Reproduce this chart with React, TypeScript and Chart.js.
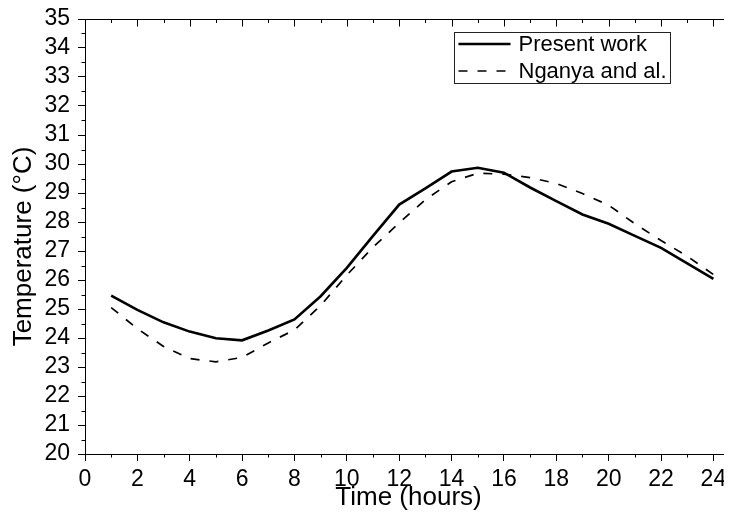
import React, { useEffect, useRef } from "react";
import { Chart, registerables } from "chart.js";

Chart.register(...registerables);

const hours = [1, 2, 3, 4, 5, 6, 7, 8, 9, 10, 11, 12, 13, 14, 15, 16, 17, 18, 19, 20, 21, 22, 23, 24];
const presentWork = [25.46, 24.97, 24.54, 24.22, 23.99, 23.92, 24.26, 24.64, 25.44, 26.42, 27.52, 28.6, 29.16, 29.74, 29.87, 29.7, 29.19, 28.72, 28.26, 27.94, 27.52, 27.11, 26.57, 26.04];
const nganya = [25.05, 24.32, 23.71, 23.29, 23.18, 23.33, 23.83, 24.28, 25.12, 26.17, 27.13, 27.97, 28.77, 29.39, 29.68, 29.65, 29.53, 29.33, 28.98, 28.58, 27.94, 27.36, 26.82, 26.19];
const xTickValues = [0, 2, 4, 6, 8, 10, 12, 14, 16, 18, 20, 22, 24];
const yTickValues = [20, 21, 22, 23, 24, 25, 26, 27, 28, 29, 30, 31, 32, 33, 34, 35];
const seriesNames = ["Present work", "Nganya and al."];
const xTitle = "Time (hours)";
const yTitle = "Temperature (°C)";

const FONT = "'Liberation Sans', Arial, sans-serif";
const X_MIN = 0;
const X_VIEW_MAX = 24.71;
const X_FRAME_MAX = 24.9;
const Y_MIN = 20;
const Y_MAX = 35;

const framePlugin = {
  id: "frame",
  afterDraw(chart: any) {
    const { ctx, chartArea, scales } = chart;
    const { left, top, bottom } = chartArea;
    const x = scales.x;
    const y = scales.y;
    const xr = x.getPixelForValue(X_FRAME_MAX);
    const line = (x1: number, y1: number, x2: number, y2: number) => {
      ctx.beginPath();
      ctx.moveTo(x1, y1);
      ctx.lineTo(x2, y2);
      ctx.stroke();
    };
    ctx.save();
    ctx.strokeStyle = "#000";
    ctx.lineWidth = 1;
    const t = Math.round(top) + 0.5;
    line(left, t, xr + 10, t);
    for (let h = X_MIN; h <= X_FRAME_MAX; h += 1) {
      const px = Math.round(x.getPixelForValue(h)) + 0.5;
      const major = h % 2 === 0;
      const len = major ? 7 : 3.5;
      if (!major) line(px, bottom, px, bottom + len);
      line(px, t, px, t + len);
    }
    for (let v = Y_MIN; v <= Y_MAX + 0.001; v += 0.5) {
      const py = Math.round(y.getPixelForValue(v)) + 0.5;
      const major = Math.abs(v - Math.round(v)) < 0.01;
      const len = major ? 7 : 3.5;
      if (!major) line(left - len, py, left, py);
      line(xr, py, xr - len, py);
    }

    // y-axis title
    ctx.save();
    ctx.translate(16, (top + bottom) / 2 + 10);
    ctx.rotate(-Math.PI / 2);
    ctx.fillStyle = "#000";
    ctx.font = `26px ${FONT}`;
    ctx.textAlign = "center";
    ctx.textBaseline = "middle";
    ctx.fillText(yTitle, 0, 0);
    ctx.restore();

    // legend
    const bx = 446.5, by = 24.5, bw = 216, bh = 51;
    ctx.strokeStyle = "#222";
    ctx.lineWidth = 1;
    ctx.strokeRect(bx, by, bw, bh);
    const rows = [36, 63];
    chart.data.datasets.forEach((ds: any, i: number) => {
      const ry = rows[i];
      ctx.strokeStyle = "#000";
      ctx.lineWidth = ds.borderWidth;
      ctx.setLineDash(ds.borderDash || []);
      line(bx + 4, ry, bx + 56, ry);
      ctx.setLineDash([]);
      ctx.fillStyle = "#000";
      ctx.font = `22px ${FONT}`;
      ctx.textAlign = "left";
      ctx.textBaseline = "middle";
      ctx.fillText(seriesNames[i], bx + 64, ry + 1);
    });
    ctx.restore();
  },
};

export default function App() {
  const ref = useRef<HTMLCanvasElement | null>(null);
  useEffect(() => {
    if (!ref.current) return;
    const chart = new Chart(ref.current, {
      type: "line",
      data: {
        datasets: [
          {
            label: seriesNames[0],
            data: hours.map((h, i) => ({ x: h, y: presentWork[i] })),
            borderColor: "#000",
            borderWidth: 2.6,
            pointRadius: 0,
            tension: 0,
            fill: false,
          },
          {
            label: seriesNames[1],
            data: hours.map((h, i) => ({ x: h, y: nganya[i] })),
            borderColor: "#000",
            borderWidth: 1.7,
            borderDash: [9, 10],
            pointRadius: 0,
            tension: 0,
            fill: false,
          },
        ],
      },
      options: {
        animation: false,
        responsive: true,
        maintainAspectRatio: false,
        layout: { padding: { top: 11, right: 0, bottom: 0, left: 0 } },
        plugins: { legend: { display: false }, tooltip: { enabled: false } },
        scales: {
          x: {
            type: "linear",
            min: X_MIN,
            max: X_VIEW_MAX,
            afterBuildTicks: (scale: any) => {
              scale.ticks = xTickValues.map((v) => ({ value: v }));
            },
            afterFit: (scale: any) => {
              scale.height = 60;
            },
            grid: { drawOnChartArea: false, drawTicks: true, tickLength: 7, tickColor: "#000", tickWidth: 1 },
            border: { display: true, color: "#000", width: 1 },
            ticks: {
              color: "#000",
              padding: 5,
              maxRotation: 0,
              autoSkip: false,
              font: { family: FONT, size: 23, lineHeight: 1.2 },
            },
            title: {
              display: true,
              text: xTitle,
              color: "#000",
              font: { family: FONT, size: 26, lineHeight: 1.2 },
              padding: { top: 0, bottom: 1 },
            },
          },
          y: {
            type: "linear",
            min: Y_MIN,
            max: Y_MAX,
            afterBuildTicks: (scale: any) => {
              scale.ticks = yTickValues.map((v) => ({ value: v }));
            },
            afterFit: (scale: any) => {
              scale.width = 77;
            },
            grid: { drawOnChartArea: false, drawTicks: true, tickLength: 7, tickColor: "#000", tickWidth: 1 },
            border: { display: true, color: "#000", width: 1 },
            ticks: {
              color: "#000",
              padding: 8,
              autoSkip: false,
              font: { family: FONT, size: 23, lineHeight: 0.1 },
            },
            title: { display: false },
          },
        },
      },
      plugins: [framePlugin],
    });
    return () => chart.destroy();
  }, []);
  return (
    <div style={{ width: 724, height: 506, position: "relative" }}>
      <canvas ref={ref} />
    </div>
  );
}
